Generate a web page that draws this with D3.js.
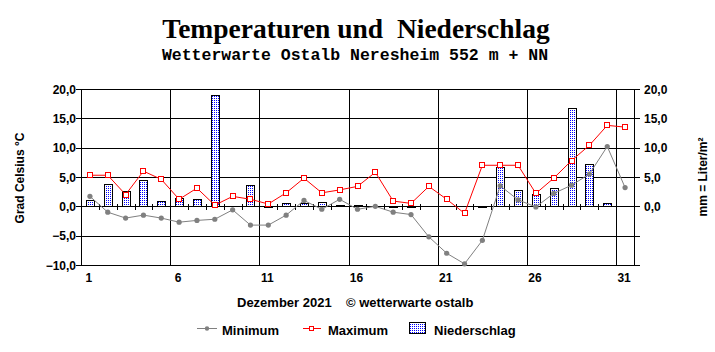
<!DOCTYPE html>
<html>
<head>
<meta charset="utf-8">
<script src="https://cdn.jsdelivr.net/npm/d3@7"></script>
<style>
  body { margin: 0; background: #fff; }
  svg { display: block; }
  .lbl { font-family: "Liberation Sans", Arial, sans-serif; font-weight: bold; fill: #000; }
</style>
</head>
<body>
<div id="chart"></div>
<script>
var W = 715, H = 352;

// Dezember 2021, Tag 1..31
var days = d3.range(1, 32);
var tempMin = [1.7, -1.0, -2.0, -1.5, -2.0, -2.7, -2.4, -2.2, -0.6, -3.2,
               -3.2, -1.5, 1.0, -0.5, 1.2, -0.5, 0.0, -1.0, -1.4, -5.2,
               -8.0, -9.8, -5.8, 3.5, 1.1, -0.1, 2.2, 3.6, 5.5, 10.2, 3.2];
var tempMax = [5.3, 5.3, 2.0, 6.0, 4.6, 1.2, 3.1, 0.2, 1.7, 1.2,
               0.4, 2.3, 4.8, 2.3, 2.8, 3.4, 5.8, 0.9, 0.5, 3.4,
               1.2, -1.2, 7.0, 7.0, 7.0, 2.2, 4.8, 7.8, 10.4, 13.8, 13.5];
var rain    = [1.0, 3.8, 2.6, 4.5, 0.9, 1.5, 1.2, 18.9, 0.0, 3.6,
               0.1, 0.5, 0.5, 0.7, 0.3, 0.3, 0.0, 0.1, 0.1, 0.0,
               0.0, 0.0, 0.1, 6.7, 2.8, 2.1, 3.2, 16.7, 7.2, 0.5, 0.0];
var dayLabels = [1, 6, 11, 16, 21, 26, 31];
var leftTicks = [-10, -5, 0, 5, 10, 15, 20];
var rightTicks = [0, 5, 10, 15, 20];

var svg = d3.select("#chart").append("svg")
    .attr("width", W).attr("height", H);

var defs = svg.append("defs");
var pat = defs.append("pattern")
    .attr("id", "dots").attr("patternUnits", "userSpaceOnUse")
    .attr("width", 2).attr("height", 2);
pat.append("rect").attr("width", 2).attr("height", 2).attr("fill", "#fff");
pat.append("rect").attr("width", 1).attr("height", 1).attr("fill", "#0000ff");

var x = d3.scaleBand().domain(days).range([81, 634]);
var y = d3.scaleLinear().domain([-10, 20]).range([265, 89]);
var y2 = d3.scaleLinear().domain([-10, 20]).range([265, 89]); // mm, gleiche Skala
var cx = function(d) { return x(d) + x.bandwidth() / 2; };
var px = function(v) { return Math.round(v) + 0.5; };

// Titel
svg.append("text")
    .attr("x", 356).attr("y", 38)
    .attr("text-anchor", "middle")
    .attr("xml:space", "preserve")
    .style("font-family", "'Liberation Serif', 'Times New Roman', serif")
    .style("font-weight", "bold").style("font-size", "27.5px")
    .text("Temperaturen und  Niederschlag");

svg.append("text")
    .attr("x", 355).attr("y", 60)
    .attr("text-anchor", "middle")
    .style("font-family", "'Liberation Mono', 'Courier New', monospace")
    .style("font-weight", "bold").style("font-size", "16.5px")
    .text("Wetterwarte Ostalb Neresheim 552 m + NN");

var grid = svg.append("g").attr("stroke", "#000").attr("shape-rendering", "crispEdges");

// horizontale Linien
grid.selectAll(".h").data(leftTicks).enter().append("line")
    .attr("x1", 81).attr("x2", 634)
    .attr("y1", function(d) { return px(y(d)); })
    .attr("y2", function(d) { return px(y(d)); });

// vertikale Linien alle 5 Tage
grid.selectAll(".v").data([5, 10, 15, 20, 25, 30]).enter().append("line")
    .attr("x1", function(d) { return px(x(d) + x.bandwidth()); })
    .attr("x2", function(d) { return px(x(d) + x.bandwidth()); })
    .attr("y1", 89).attr("y2", 265);

// Achsen links / rechts
grid.append("line").attr("x1", px(81)).attr("x2", px(81)).attr("y1", 89).attr("y2", 266);
grid.append("line").attr("x1", px(634)).attr("x2", px(634)).attr("y1", 89).attr("y2", 266);

grid.selectAll(".tl").data(leftTicks).enter().append("line")
    .attr("x1", 76).attr("x2", 81)
    .attr("y1", function(d) { return px(y(d)); })
    .attr("y2", function(d) { return px(y(d)); });
grid.selectAll(".tr").data(leftTicks).enter().append("line")
    .attr("x1", 634).attr("x2", 640)
    .attr("y1", function(d) { return px(y(d)); })
    .attr("y2", function(d) { return px(y(d)); });

// Ticks auf der Nulllinie
grid.selectAll(".t0").data(days.slice(0, 30)).enter().append("line")
    .attr("x1", function(d) { return px(x(d) + x.bandwidth()); })
    .attr("x2", function(d) { return px(x(d) + x.bandwidth()); })
    .attr("y1", y(0) - 2).attr("y2", y(0) + 4);

// Beschriftung
svg.selectAll(".yl").data(leftTicks).enter().append("text")
    .attr("class", "lbl").style("font-size", "12px")
    .attr("x", 76).attr("y", function(d) { return y(d) + 4.5; })
    .attr("text-anchor", "end")
    .text(function(d) { return d3.format(".1f")(d).replace(".", ","); });

svg.selectAll(".yr").data(rightTicks).enter().append("text")
    .attr("class", "lbl").style("font-size", "12px")
    .attr("x", 644).attr("y", function(d) { return y2(d) + 4.5; })
    .text(function(d) { return d3.format(".1f")(d).replace(".", ","); });

svg.selectAll(".xl").data(dayLabels).enter().append("text")
    .attr("class", "lbl").style("font-size", "12px")
    .attr("x", function(d) { return cx(d) - 1; }).attr("y", 282)
    .attr("text-anchor", "middle")
    .text(function(d) { return d; });

svg.append("text").attr("class", "lbl").style("font-size", "12px")
    .attr("transform", "translate(24,178) rotate(-90)")
    .attr("text-anchor", "middle")
    .text("Grad Celsius °C");

svg.append("text").attr("class", "lbl").style("font-size", "12px")
    .attr("transform", "translate(707,177) rotate(-90)")
    .attr("text-anchor", "middle")
    .text("mm = Liter/m²");

svg.append("text").attr("class", "lbl").style("font-size", "13px")
    .attr("x", 237).attr("y", 307).text("Dezember 2021");
svg.append("text").attr("class", "lbl").style("font-size", "13px")
    .attr("x", 346).attr("y", 307).text("© wetterwarte ostalb");

// Niederschlag Balken
var bw = 8;
svg.append("g").selectAll("rect").data(days.filter(function(d, i) { return rain[i] > 0; }))
    .enter().append("rect")
    .attr("x", function(d) { return Math.round(cx(d) - bw / 2) + 0.5; })
    .attr("y", function(d) { return Math.round(y2(rain[d - 1])) + 0.5; })
    .attr("width", bw)
    .attr("height", function(d) { return Math.max(1, Math.round(y2(0)) - Math.round(y2(rain[d - 1]))); })
    .attr("fill", "url(#dots)")
    .attr("stroke", "#000").attr("stroke-width", 1);

// Minimum
var line = function(arr) {
    return d3.line().x(function(d) { return cx(d); }).y(function(d) { return y(arr[d - 1]); });
};
svg.append("path").datum(days)
    .attr("d", line(tempMin))
    .attr("fill", "none").attr("stroke", "#808080").attr("stroke-width", 1);
svg.append("g").selectAll("circle").data(days).enter().append("circle")
    .attr("cx", cx).attr("cy", function(d) { return y(tempMin[d - 1]); })
    .attr("r", 2.6).attr("fill", "#808080");

// Maximum
svg.append("path").datum(days)
    .attr("d", line(tempMax))
    .attr("fill", "none").attr("stroke", "#ff0000").attr("stroke-width", 1);
svg.append("g").selectAll("rect").data(days).enter().append("rect")
    .attr("x", function(d) { return Math.round(cx(d)) - 2.5; })
    .attr("y", function(d) { return Math.round(y(tempMax[d - 1])) - 2.5; })
    .attr("width", 5).attr("height", 5)
    .attr("fill", "#fff").attr("stroke", "#ff0000").attr("stroke-width", 1);

// Legende
var lg = svg.append("g");
lg.append("line").attr("x1", 197).attr("x2", 217).attr("y1", 328.5).attr("y2", 328.5)
    .attr("stroke", "#808080");
lg.append("circle").attr("cx", 207).attr("cy", 328.5).attr("r", 2.2).attr("fill", "#808080");
lg.append("text").attr("class", "lbl").style("font-size", "13px")
    .attr("x", 222).attr("y", 335).text("Minimum");

lg.append("line").attr("x1", 303).attr("x2", 321).attr("y1", 328.5).attr("y2", 328.5)
    .attr("stroke", "#ff0000");
lg.append("rect").attr("x", 309.5).attr("y", 326.5).attr("width", 4).attr("height", 4)
    .attr("fill", "#fff").attr("stroke", "#ff0000");
lg.append("text").attr("class", "lbl").style("font-size", "13px")
    .attr("x", 328).attr("y", 335).text("Maximum");

lg.append("rect").attr("x", 409.5).attr("y", 322.5).attr("width", 16).attr("height", 11)
    .attr("fill", "url(#dots)").attr("stroke", "#000");
lg.append("text").attr("class", "lbl").style("font-size", "13px")
    .attr("x", 434).attr("y", 335).text("Niederschlag");
</script>
</body>
</html>
